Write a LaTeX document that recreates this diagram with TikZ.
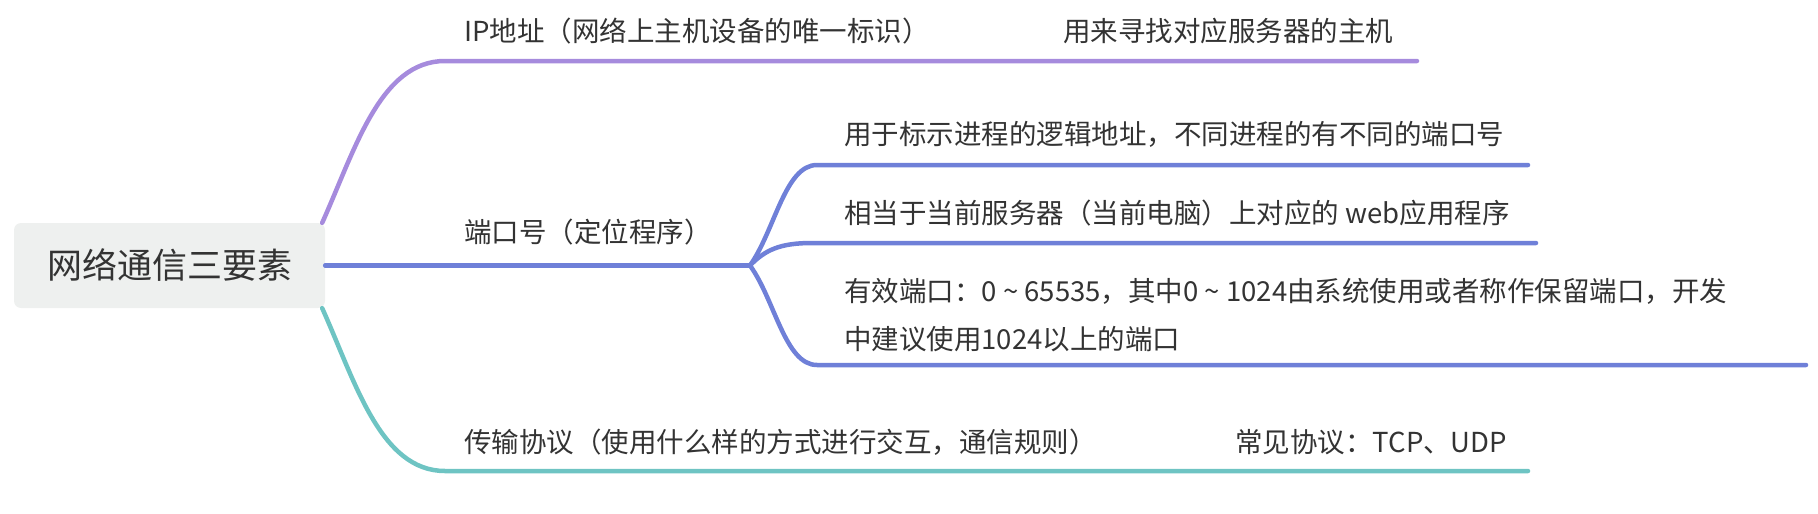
\documentclass[tikz,border=0pt]{standalone}
\usepackage{fontspec}
\setmainfont{Noto Sans CJK SC}

\definecolor{ipcolor}{HTML}{A68BDD}
\definecolor{portcolor}{HTML}{6F80D8}
\definecolor{protocolor}{HTML}{6EC4C3}
\definecolor{rootgray}{HTML}{EEF0EF}
\definecolor{textgray}{HTML}{333333}

\tikzset{
  rootbox/.style={fill=rootgray, rounded corners=7pt, minimum width=311pt, minimum height=85pt,
    inner sep=0pt, text=textgray, font=\fontsize{35}{42}\selectfont},
  leaf/.style={anchor=west, inner sep=0pt, text=textgray, align=left, font=\fontsize{27.5}{48}\selectfont},
  branch/.style={line width=4.5pt, line cap=round},
}

\begin{document}
\begin{tikzpicture}[x=1pt,y=-1pt]
  \useasboundingbox (0,0) rectangle (1818,514);
  \node[rootbox] (root) at (169.5,265.5) {网络通信三要素};

  \node[leaf] (ip) at (464,31) {IP地址（网络上主机设备的唯一标识）};
  \node[leaf] (iphost) at (1063,31) {用来寻找对应服务器的主机};
  \node[leaf] (port) at (464,232) {端口号（定位程序）};
  \node[leaf] (porta) at (844,134) {用于标示进程的逻辑地址，不同进程的有不同的端口号};
  \node[leaf] (portb) at (844,213) {相当于当前服务器（当前电脑）上对应的 web应用程序};
  \node[leaf] (portc) at (844,315) {有效端口：0 \textasciitilde{} 65535，其中0 \textasciitilde{} 1024由系统使用或者称作保留端口，开发\\中建议使用1024以上的端口};
  \node[leaf] (proto) at (464,442) {传输协议（使用什么样的方式进行交互，通信规则）};
  \node[leaf] (protocom) at (1235,442) {常见协议：TCP、UDP};

  \coordinate (ipL) at (445,61);
  \coordinate (ipR) at (1417,61);
  \coordinate (fork) at (750,265.5);
  \coordinate (aL) at (817,165);
  \coordinate (aR) at (1528,165);
  \coordinate (bL) at (812,243);
  \coordinate (bR) at (1536,243);
  \coordinate (cL) at (817,365);
  \coordinate (cR) at (1806,365);
  \coordinate (protoL) at (445,471);
  \coordinate (protoR) at (1528,471);

  \draw[branch, ipcolor] ([xshift=-3pt]root.north east) .. controls (355,150) and (380,61) .. (ipL) -- (ipR);
  \draw[branch, protocolor] ([xshift=-3pt]root.south east) .. controls (355,381) and (380,471) .. (protoL) -- (protoR);
  \draw[branch, portcolor] (root.east) -- (fork);
  \draw[branch, portcolor] (fork) .. controls (775,230) and (785,165) .. (aL) -- (aR);
  \draw[branch, portcolor] (fork) .. controls (765,250) and (780,243) .. (bL) -- (bR);
  \draw[branch, portcolor] (fork) .. controls (775,300) and (785,365) .. (cL) -- (cR);
\end{tikzpicture}
\end{document}
